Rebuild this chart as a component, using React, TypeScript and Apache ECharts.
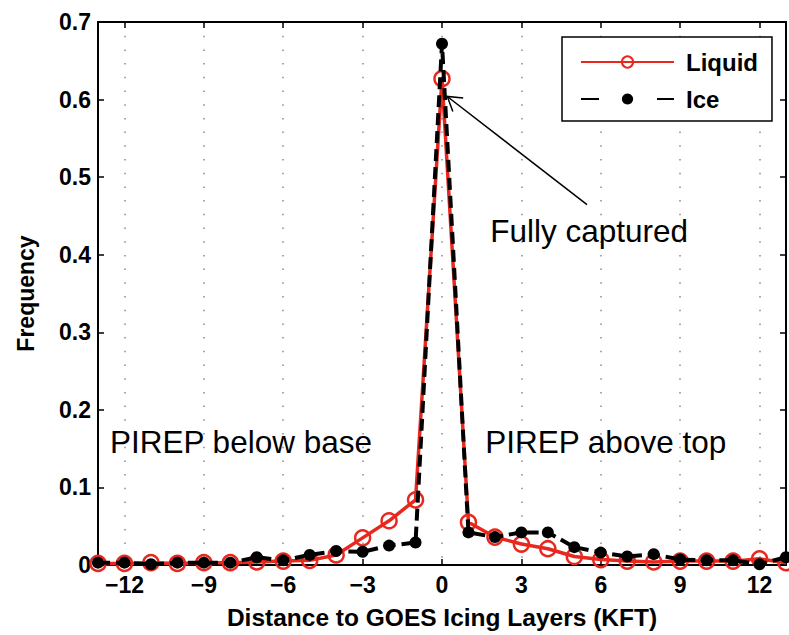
import React, { useEffect, useRef } from 'react';
import * as echarts from 'echarts';

const distances = [-13, -12, -11, -10, -9, -8, -7, -6, -5, -4, -3, -2, -1, 0, 1, 2, 3, 4, 5, 6, 7, 8, 9, 10, 11, 12, 13];
const liquid = [0.002, 0.002, 0.003, 0.002, 0.003, 0.003, 0.004, 0.005, 0.006, 0.013, 0.035, 0.057, 0.084, 0.627, 0.055, 0.036, 0.027, 0.021, 0.011, 0.007, 0.005, 0.004, 0.005, 0.005, 0.005, 0.008, 0.003];
const ice = [0.003, 0.003, 0.001, 0.003, 0.003, 0.003, 0.010, 0.006, 0.013, 0.018, 0.017, 0.025, 0.029, 0.672, 0.042, 0.036, 0.042, 0.042, 0.023, 0.016, 0.011, 0.014, 0.007, 0.006, 0.006, 0.001, 0.010];
const xTickValues = [-12, -9, -6, -3, 0, 3, 6, 9, 12];
const xRange = [-13, 13];
const yRange = [0, 0.7];
const yInterval = 0.1;

const annotations = [
  { text: 'PIREP below base', x: -12.55, y: 0.159 },
  { text: 'PIREP above top', x: 1.63, y: 0.159 },
  { text: 'Fully captured', x: 1.82, y: 0.43 },
];
const arrowFrom = [5.48, 0.4646];
const arrowTo = [0.2, 0.604];

const FONT = '"Liberation Sans", Arial, Helvetica, sans-serif';
const RED = '#e8281e';

export default function App() {
  const ref = useRef<HTMLDivElement>(null);
  useEffect(() => {
    if (!ref.current) return;
    const chart = echarts.init(ref.current, null, { renderer: 'svg' });
    const axisLine = { show: true, onZero: false, lineStyle: { color: '#000', width: 2 } };
    const fmtX = (v: number) => (v < 0 ? '\u2212' + Math.abs(v) : String(v));
    const option: any = {
      animation: false,
      backgroundColor: '#fff',
      grid: { left: 98, right: 3, top: 22, bottom: 69, containLabel: false },
      legend: {
        orient: 'vertical',
        left: 562,
        top: 37,
        padding: [13, 14, 10, 18],
        itemGap: 13,
        itemWidth: 93,
        itemHeight: 14,
        backgroundColor: '#fff',
        borderColor: '#000',
        borderWidth: 1.5,
        borderRadius: 0,
        textStyle: { fontFamily: FONT, fontSize: 24, fontWeight: 'bold', color: '#000', lineHeight: 24, padding: [0, 0, 0, 7] },
        data: [
          { name: 'Liquid' },
          { name: 'Ice', lineStyle: { type: [18, 58] } },
        ],
      },
      xAxis: [
        {
          type: 'value',
          min: xRange[0],
          max: xRange[1],
          position: 'bottom',
          axisLine,
          axisTick: { show: true, inside: true, length: 6, customValues: xTickValues, lineStyle: { color: '#000', width: 1.5 } },
          axisLabel: {
            customValues: xTickValues,
            formatter: fmtX,
            fontFamily: FONT,
            fontSize: 23,
            fontWeight: 'bold',
            color: '#000',
            margin: 8,
          },
          splitLine: { show: true, lineStyle: { type: [1.5, 12.2], color: '#8a8a8a', width: 1.5 } },
          name: 'Distance to GOES Icing Layers (KFT)',
          nameLocation: 'middle',
          nameGap: 40,
          nameTextStyle: { fontFamily: FONT, fontSize: 24.5, fontWeight: 'bold', color: '#000' },
        },
        {
          type: 'value',
          min: xRange[0],
          max: xRange[1],
          position: 'top',
          axisLine,
          axisTick: { show: true, inside: true, length: 6, customValues: xTickValues, lineStyle: { color: '#000', width: 1.5 } },
          axisLabel: { show: false, customValues: xTickValues },
          splitLine: { show: false },
        },
      ],
      yAxis: [
        {
          type: 'value',
          min: yRange[0],
          max: yRange[1],
          interval: yInterval,
          position: 'left',
          axisLine,
          axisTick: { show: true, inside: true, length: 6, lineStyle: { color: '#000', width: 1.5 } },
          axisLabel: {
            formatter: (v: number) => (Math.abs(v) < 1e-9 ? '0' : v.toFixed(1)),
            fontFamily: FONT,
            fontSize: 23,
            fontWeight: 'bold',
            color: '#000',
            margin: 7,
          },
          splitLine: { show: false },
          name: 'Frequency',
          nameLocation: 'middle',
          nameGap: 61,
          nameTextStyle: { fontFamily: FONT, fontSize: 23, fontWeight: 'bold', color: '#000' },
        },
        {
          type: 'value',
          min: yRange[0],
          max: yRange[1],
          interval: yInterval,
          position: 'right',
          axisLine,
          axisTick: { show: true, inside: true, length: 6, lineStyle: { color: '#000', width: 1.5 } },
          axisLabel: { show: false },
          splitLine: { show: false },
        },
      ],
      series: [
        {
          name: 'Liquid',
          type: 'line',
          data: distances.map((d, i) => [d, liquid[i]]),
          symbol: 'circle',
          symbolSize: 15,
          clip: false,
          lineStyle: { color: RED, width: 3.5 },
          itemStyle: { color: 'rgba(0,0,0,0)', borderColor: RED, borderWidth: 2.5 },
          z: 3,
        },
        {
          name: 'Ice',
          type: 'line',
          data: distances.map((d, i) => [d, ice[i]]),
          symbol: 'circle',
          symbolSize: 12,
          clip: false,
          lineStyle: { color: '#000', width: 4, type: [12, 6] },
          itemStyle: { color: '#000' },
          z: 4,
        },
      ],
    };
    chart.setOption(option);

    const px = (p: number[]) => chart.convertToPixel({ seriesIndex: 0 }, p) as number[];
    const graphics: any[] = annotations.map((a) => {
      const [x, y] = px([a.x, a.y]);
      return {
        type: 'text',
        x,
        y,
        z: 10,
        style: { text: a.text, fontFamily: FONT, fontSize: 31.5, fill: '#000', align: 'left', verticalAlign: 'middle' },
      };
    });
    const [sx, sy] = px(arrowFrom);
    const [tx, ty] = px(arrowTo);
    const len = Math.hypot(sx - tx, sy - ty);
    const bx = (sx - tx) / len;
    const by = (sy - ty) / len;
    const ang = (32 * Math.PI) / 180;
    const wl = 16;
    const rot = (a: number) => [tx + wl * (bx * Math.cos(a) - by * Math.sin(a)), ty + wl * (bx * Math.sin(a) + by * Math.cos(a))];
    graphics.push({ type: 'line', z: 10, shape: { x1: sx, y1: sy, x2: tx, y2: ty }, style: { stroke: '#000', lineWidth: 1.5 } });
    graphics.push({ type: 'polyline', z: 10, shape: { points: [rot(ang), [tx, ty], rot(-ang)] }, style: { stroke: '#000', lineWidth: 1.5, fill: 'none' } });
    chart.setOption({ graphic: graphics });

    return () => chart.dispose();
  }, []);
  return <div ref={ref} style={{ position: 'absolute', left: 0, top: 0, width: 789, height: 635 }} />;
}
